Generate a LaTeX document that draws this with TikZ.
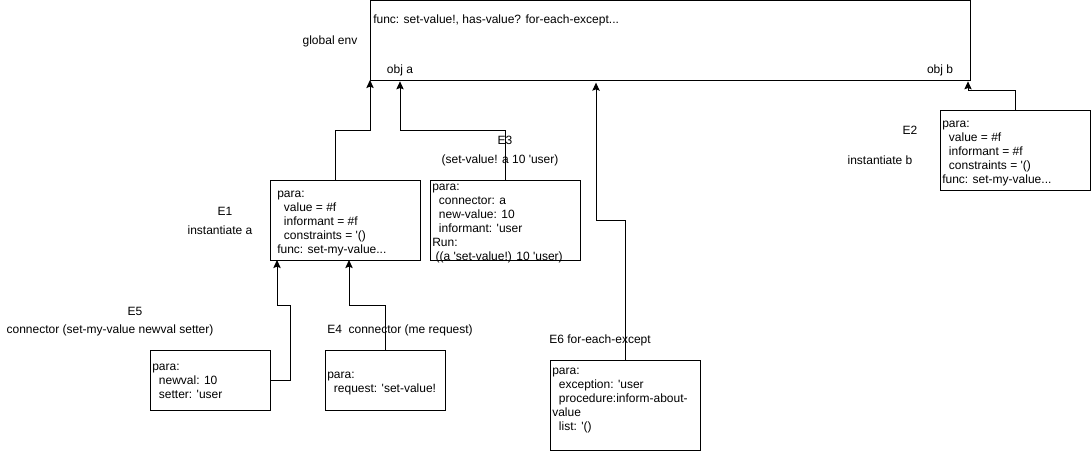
\documentclass[tikz,border=0pt]{standalone}
\usepackage{fontspec}
\setmainfont{Liberation Sans}
\usetikzlibrary{arrows.meta}
\newcommand\sq{\textquotesingle}
\newcommand\ind{\hspace*{5pt}}
\begin{document}
\begin{tikzpicture}[x=0.75pt,y=-0.75pt,
  every node/.style={font=\fontsize{9}{10.5}\selectfont},
  box/.style={draw,line width=0.75pt,inner sep=0pt,outer sep=0pt},
  txt/.style={anchor=north west,inner sep=0pt,align=left},
  lbl/.style={inner sep=0pt},
  arr/.style={line width=0.75pt,-{Stealth[length=6pt,width=5.5pt,inset=1pt]}}]
\useasboundingbox (0,0) rectangle (1091,451);
% boxes
\node[box,minimum width=450pt,minimum height=60pt] (genv) at (670,40) {};
\node[box,minimum width=112.5pt,minimum height=60pt] (e1) at (345,220) {};
\node[box,minimum width=112.5pt,minimum height=60pt] (e3) at (505,220) {};
\node[box,minimum width=112.5pt,minimum height=60pt] (e2) at (1015,150) {};
\node[box,minimum width=90pt,minimum height=45pt] (e5) at (210,380) {};
\node[box,minimum width=90pt,minimum height=45pt] (e4) at (385,380) {};
\node[box,minimum width=112.5pt,minimum height=67.5pt] (e6) at (625,405) {};
% box texts
\node[lbl,anchor=west] (gtext) at (373,20) {func: set-value!, has-value? for-each-except...};
\node[lbl] (oa) at (400,70) {obj a};
\node[lbl] (ob) at (940,70) {obj b};
\node[txt] (t1) at (277,187) {\strut para:\\\ind value = \#f\\\ind informant = \#f\\\ind constraints = \sq()\\func: set-my-value...};
\node[txt] (t3) at (432,180) {\strut para:\\\ind connector: a\\\ind new-value: 10\\\ind informant: \sq user\\Run:\\\hspace*{2.5pt}((a \sq set-value!) 10 \sq user)};
\node[txt] (t2) at (942,117) {\strut para:\\\ind value = \#f\\\ind informant = \#f\\\ind constraints = \sq()\\func: set-my-value...};
\node[txt] (t5) at (152,360) {\strut para:\\\ind newval: 10\\\ind setter: \sq user};
\node[txt] (t4) at (327,368) {\strut para:\\\ind request: \sq set-value!};
\node[txt] (t6) at (552,364) {\strut para:\\\ind exception: \sq user\\\ind procedure:inform-about-\\value\\\ind list: \sq()};
% labels
\node[lbl] (lg) at (330,41) {global env};
\node[lbl] (l3a) at (505,140) {E3};
\node[lbl] (l3b) at (500,160) {(set-value! a 10 \sq user)};
\node[lbl] (l1a) at (225,211) {E1};
\node[lbl] (l1b) at (220,230) {instantiate a};
\node[lbl] (l2a) at (910,130) {E2};
\node[lbl] (l2b) at (880,160) {instantiate b};
\node[lbl] (l5a) at (135,311) {E5};
\node[lbl] (l5b) at (110,330) {connector (set-my-value newval setter)};
\node[lbl] (l4) at (400,330) {E4\ \ connector (me request)};
\node[lbl] (l6) at (600,340) {E6 for-each-except};
% connectors
\draw[arr] ([xshift=-7.5pt]e1.north) -- ++(0,-50) -| (genv.south west);
\draw[arr] (e3.north) -- ++(0,-50) -| ([xshift=22.5pt,yshift=-1pt]genv.south west);
\draw[arr] (e2.north) -- ++(0,-20) -| ([xshift=-1.5pt,yshift=-1pt]genv.south east);
\draw[arr] (e6.north) -- ++(0,-140) -| ([xshift=169.5pt,yshift=-2pt]genv.south west);
\draw[arr] (e5.east) -- ++(20,0) -- ++(0,-75) -| ([xshift=5.25pt]e1.south west);
\draw[arr] (e4.north) -- ++(0,-45) -| ([xshift=59.25pt]e1.south west);
\end{tikzpicture}
\end{document}
